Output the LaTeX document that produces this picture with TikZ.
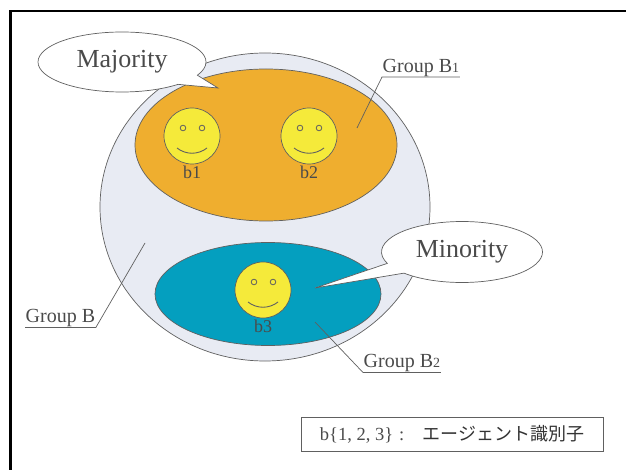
\documentclass[tikz,border=0pt]{standalone}
\usepackage{fontspec}
\setmainfont{Liberation Serif}
\newfontfamily\jp{Noto Sans CJK JP}
\usetikzlibrary{shapes.geometric, shapes.callouts, calc}

\definecolor{txt}{HTML}{4A4A4A}
\definecolor{edge}{HTML}{606060}
\definecolor{groupB}{HTML}{E8EBF3}
\definecolor{major}{HTML}{EFAE2F}
\definecolor{minor}{HTML}{049FBF}
\definecolor{smile}{HTML}{F5EA3A}

\begin{document}
\begin{tikzpicture}[x = 1pt, y = -1pt, nodes = {align = center, text = txt}]

  \tikzstyle{group}=[draw=edge, ellipse, inner sep=0pt, line width=0.7pt,]
  \tikzstyle{face}=[draw=edge, circle, fill=smile, minimum size=56pt, inner sep=0pt, line width=0.7pt,]
  \tikzstyle{eye}=[draw=edge, fill=smile, line width=0.8pt,]
  \tikzstyle{mouth}=[draw=edge, line width=0.9pt,]
  \tikzstyle{agent}=[inner sep=0pt, font=\fontsize{18}{20}\selectfont,]
  \tikzstyle{bubble}=[draw=edge, fill=white, ellipse callout, callout pointer arc=22, inner sep=0pt, line width=0.7pt, font=\fontsize{26}{30}\selectfont,]
  \tikzstyle{grouptag}=[anchor=south west, inner sep=0.5pt, font=\fontsize{20}{22}\selectfont,]
  \tikzstyle{lead}=[draw=edge, line width=0.7pt,]

  \useasboundingbox (0,0) rectangle (626,470);

  % Frame
  \draw[line width=2.7pt] (10.7,470) -- (10.7,11) -- (626,11);

  % Groups
  \node[group, fill=groupB, minimum width=330pt, minimum height=308pt] (gB) at (265,207) {};
  \node[group, fill=major, minimum width=262pt, minimum height=152pt] (gB1) at (266,145) {};
  \node[group, fill=minor, minimum width=226pt, minimum height=103pt] (gB2) at (268,294) {};

  % Agents
  \node[face] (f1) at (192,136) {};
  \node[face] (f2) at (309,136) {};
  \node[face] (f3) at (263,290) {};
  \node[agent] (b1) at (192,172) {b1};
  \node[agent] (b2) at (309,172) {b2};
  \node[agent] (b3) at (263,326) {b3};

  % Faces
  \draw[eye] ($(f1)+(-9,-8)$) circle [radius=2.8pt];
  \draw[eye] ($(f1)+(10,-8)$) circle [radius=2.8pt];
  \draw[mouth] ($(f1)+(-15,12)$) .. controls ($(f1)+(-6,19)$) and ($(f1)+(6,19)$) .. ($(f1)+(15,12)$);
  \draw[eye] ($(f2)+(-9,-8)$) circle [radius=2.8pt];
  \draw[eye] ($(f2)+(10,-8)$) circle [radius=2.8pt];
  \draw[mouth] ($(f2)+(-15,12)$) .. controls ($(f2)+(-6,19)$) and ($(f2)+(6,19)$) .. ($(f2)+(15,12)$);
  \draw[eye] ($(f3)+(-9,-8)$) circle [radius=2.8pt];
  \draw[eye] ($(f3)+(10,-8)$) circle [radius=2.8pt];
  \draw[mouth] ($(f3)+(-15,12)$) .. controls ($(f3)+(-6,19)$) and ($(f3)+(6,19)$) .. ($(f3)+(15,12)$);

  % Group labels
  \node[grouptag] (tB) at (25,327.5) {Group B};
  \node[grouptag] (tB1) at (382,77) {Group B{\fontsize{14}{16}\selectfont 1}};
  \node[grouptag] (tB2) at (363,372.5) {Group B{\fontsize{14}{16}\selectfont 2}};
  \coordinate (pB) at (145,243);
  \coordinate (pB1) at (357,128);
  \coordinate (pB2) at (315,322);

  % Underlines and leaders
  \draw[lead] (tB.south west) -- (tB.south east) -- (pB);
  \draw[lead] (tB1.south east) -- (tB1.south west) -- (pB1);
  \draw[lead] (tB2.south east) -- (tB2.south west) -- (pB2);

  % Callouts
  \node[bubble, minimum width=168pt, minimum height=60pt, callout absolute pointer={(218,88)}] (maj) at (122,62) {Majority};
  \node[bubble, minimum width=161pt, minimum height=61pt, callout absolute pointer={(315,288)}] (mino) at (462,252) {Minority};

  % Key
  \node[draw=edge, line width=0.7pt, minimum width=302pt, minimum height=34pt, inner sep=0pt, font=\fontsize{18.5}{20}\selectfont] (key) at (452,434)
    {b\{1, 2, 3\}\hspace{6pt}:\hspace{18pt}{\jp\fontsize{18}{20}\selectfont\color{black!80} エージェント識別子}};

\end{tikzpicture}
\end{document}
